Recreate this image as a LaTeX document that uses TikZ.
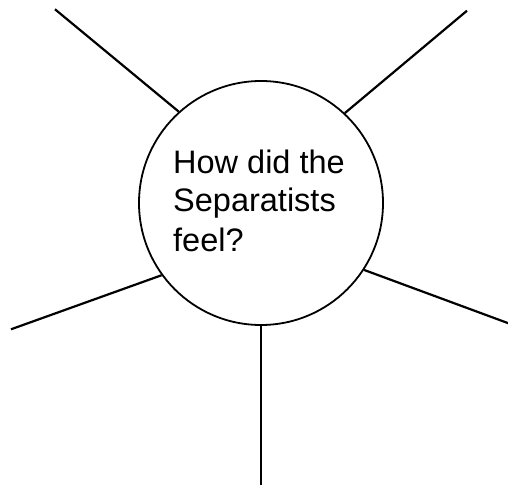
\documentclass[tikz,border=0pt]{standalone}
\usepackage{fontspec}
\setmainfont{Liberation Sans}
\begin{document}
\begin{tikzpicture}[x=1pt,y=1pt,
  hub/.style={circle,draw,line width=1.8pt,minimum size=244pt,inner sep=0pt},
  spoke/.style={line width=2.2pt},
  label/.style={anchor=base west,inner sep=0pt,font=\fontsize{32.5}{38}\selectfont}]
\useasboundingbox (0,0) rectangle (508,485);
\node[hub] (c) at (261,282) {};
\coordinate (ul) at (55,475.7);
\coordinate (ur) at (467,474.3);
\coordinate (l) at (11,155.7);
\coordinate (r) at (508.5,161.7);
\coordinate (b) at (261,0);
\draw[spoke] (c.132) -- (ul);
\draw[spoke] (c.47) -- (ur);
\draw[spoke] (c.216) -- (l);
\draw[spoke] (c.-33.5) -- (r);
\draw[spoke] (c.south) -- (b);
\node[label] (t1) at (173,311) {How did the};
\node[label] (t2) at (173,273) {Separatists};
\node[label] (t3) at (173,233.5) {feel?};
\end{tikzpicture}
\end{document}
